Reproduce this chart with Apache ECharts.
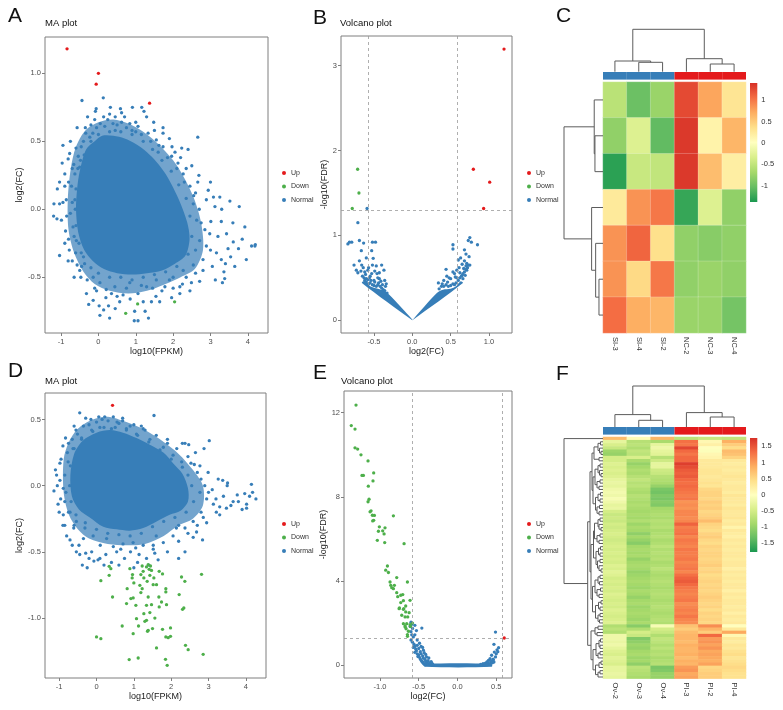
<!DOCTYPE html>
<html><head><meta charset="utf-8">
<script src="https://cdn.jsdelivr.net/npm/echarts@6/dist/echarts.min.js"></script>
<style>html,body{margin:0;padding:0;background:#fff}#c{width:783px;height:710px}</style>
</head><body><div id="c"></div>
<script>
// ---------------- DATA ----------------
const BLUE = '#377EB8', RED = '#E41A1C', GREEN = '#4DAF4A';
const legendNames = ['Up', 'Down', 'Normal'];
const fcCut = [-0.585, 0.585];
const fdrCut = 1.301;

// ticks
const maTicksX = [-1, 0, 1, 2, 3, 4];
const maATicksY = [-0.5, 0, 0.5, 1];
const maDTicksY = [-1, -0.5, 0, 0.5];
const volBTicksX = [-0.5, 0, 0.5, 1];
const volBTicksY = [0, 1, 2, 3];
const volETicksX = [-1, -0.5, 0, 0.5];
const volETicksY = [0, 4, 8, 12];

// Panel A - MA plot (dense core outline, looser halo outline, scattered points)
const maACore = [[-0.5,0.28],[-0.33,0.44],[-0.1,0.5],[0.1,0.54],[0.4,0.54],[0.7,0.52],[1.0,0.48],[1.3,0.42],[1.55,0.35],[1.8,0.26],[2.0,0.16],[2.2,0.04],[2.38,-0.1],[2.44,-0.22],[2.33,-0.34],[2.05,-0.4],[1.7,-0.45],[1.3,-0.47],[0.9,-0.48],[0.5,-0.47],[0.15,-0.44],[-0.15,-0.38],[-0.38,-0.3],[-0.54,-0.17],[-0.6,0.0],[-0.57,0.15]];
const maAHalo = [[-0.74,0.3],[-0.6,0.46],[-0.35,0.58],[0,0.64],[0.4,0.66],[0.8,0.63],[1.2,0.57],[1.6,0.48],[2.0,0.36],[2.28,0.24],[2.56,0.08],[2.75,-0.1],[2.8,-0.3],[2.58,-0.44],[2.2,-0.5],[1.8,-0.55],[1.3,-0.6],[0.8,-0.62],[0.3,-0.6],[-0.1,-0.55],[-0.4,-0.46],[-0.65,-0.32],[-0.8,-0.15],[-0.82,0.07]];
const maANormal = [[-0.44,0.80],[0.13,0.82],[-0.06,0.74],[-0.08,0.72],[0.32,0.75],[0.14,0.68],[0.91,0.75],[1.16,0.75],[1.22,0.72],[0.59,0.74],[0.62,0.71],[-0.29,0.68],[-0.34,0.56],[-0.57,0.60],[-0.95,0.47],[-0.81,0.37],[-0.97,0.34],[-1.04,0.20],[-0.90,0.17],[-1.19,0.04],[-1.04,0.04],[-1.11,-0.07],[-0.99,-0.08],[-0.88,-0.16],[-0.80,-0.22],[-1.04,-0.34],[-0.81,-0.38],[-0.61,-0.32],[-0.57,-0.41],[-0.47,-0.50],[-0.26,-0.70],[0.02,-0.71],[0.04,-0.78],[0.27,-0.71],[0.14,-0.74],[0.45,-0.73],[0.97,-0.75],[1.06,-0.82],[0.96,-0.82],[1.34,-0.80],[1.42,-0.68],[1.54,-0.64],[1.96,-0.65],[2.18,-0.57],[2.49,-0.54],[2.71,-0.53],[3.13,-0.52],[3.32,-0.54],[3.38,-0.51],[3.36,-0.46],[3.29,-0.37],[3.54,-0.35],[3.65,-0.42],[3.75,-0.29],[3.96,-0.37],[4.19,-0.27],[4.10,-0.27],[3.92,-0.13],[3.77,0.02],[3.52,0.06],[3.29,-0.09],[3.01,-0.09],[3.25,0.09],[3.08,0.09],[2.94,0.14],[2.69,0.25],[2.66,0.20],[2.40,0.44],[2.23,0.45],[1.97,0.46],[1.73,0.56],[1.73,0.60],[1.48,0.64],[1.29,0.68],[2.66,0.53],[3.43,-0.18],[3.61,-0.24],[3.47,-0.29],[3.16,-0.32],[2.89,-0.27],
[-0.63,0.26],[-0.72,0.17],[-0.63,0.07],[-0.75,-0.03],[-0.68,-0.13],[-0.59,-0.23],[-0.46,-0.32],[-0.37,-0.40],[-0.14,-0.50],[0.04,-0.54],[0.21,-0.59],[0.44,-0.57],[0.66,-0.63],[0.84,-0.54],[1.06,-0.62],[1.29,-0.57],[1.55,-0.52],[1.78,-0.57],[2.0,-0.50],[2.27,-0.45],[2.54,-0.41],[2.80,-0.37],[2.71,-0.23],[2.63,-0.08],[2.54,0.04],[2.45,0.17],[2.27,0.26],[2.13,0.34],[1.96,0.39],[1.73,0.46],[1.55,0.51],[1.33,0.56],[1.06,0.61],[0.84,0.63],[0.62,0.64],[0.39,0.63],[0.17,0.61],[-0.05,0.60],[-0.23,0.53],[-0.46,0.46],[-0.54,0.39],[-0.50,0.31],[-0.86,0.07],[-0.90,0.26],[-0.77,0.41],[-0.32,-0.62],[-0.14,-0.67],[0.57,-0.68],[2.98,-0.18],[3.12,0.02],[2.89,0.07],[2.36,-0.15],[2.80,-0.45],[2.18,-0.62],[1.64,-0.68],
[-0.55,0.3],[-0.6,0.15],[-0.62,0.0],[-0.6,-0.12],[-0.52,-0.25],[-0.4,-0.35],[-0.2,-0.43],[0.0,-0.47],[0.3,-0.5],[0.6,-0.5],[0.9,-0.52],[1.2,-0.5],[1.5,-0.48],[1.8,-0.46],[2.1,-0.42],[2.4,-0.33],[2.5,-0.2],[2.45,-0.05],[2.35,0.08],[2.15,0.18],[1.95,0.28],[1.7,0.36],[1.45,0.44],[1.2,0.5],[0.9,0.55],[0.6,0.57],[0.3,0.57],[0.0,0.55],[-0.2,0.5],[-0.38,0.4],[-0.48,0.36],[-0.66,0.33],[-0.7,0.05],[-0.65,-0.2],[-0.45,-0.42],[-0.05,-0.6],[0.35,-0.62],[0.75,-0.58],[1.15,-0.56],[1.45,-0.58],[1.9,-0.52],[2.25,-0.55],[2.6,-0.3],[2.75,-0.1],[2.6,0.12],[2.35,0.3],[2.05,0.42],[1.62,0.47],[1.0,0.57],[0.45,0.58],[-0.15,0.56],[-0.4,0.5],
[0.05,0.63],[0.25,0.66],[0.5,0.62],[0.75,0.6],[1.0,0.64],[0.3,0.7],[0.7,0.68],[-0.1,0.66],[0.45,0.68],[0.9,0.58],[1.15,0.55],[1.4,0.5],[1.6,0.42],[1.85,0.38],[2.1,0.3],[2.3,0.2],[2.55,0.1],[2.7,0.0],[2.85,-0.15],[3.0,-0.3],[3.2,-0.2],[3.4,-0.4],[2.6,-0.47],[2.35,-0.5],[2.0,-0.58],[1.7,-0.6],[1.2,-0.68],[0.85,-0.66],[0.5,-0.64],[0.2,-0.65],[-0.1,-0.58],[-0.3,-0.52],[-0.5,-0.45],[-0.7,-0.38],[-0.78,-0.3],[-0.9,-0.25],[-0.85,-0.05],[-0.95,0.05],[-0.8,0.2],[-0.7,0.3],[-0.6,0.45],[-0.75,0.5],[-0.35,0.6],[-0.2,0.62],[1.5,0.58],[1.9,0.52],[2.2,0.38],[2.5,0.32],[3.0,0.2],[3.3,0.0],[3.6,-0.1],[3.85,-0.22],[4.2,-0.26],[3.05,-0.42],[2.45,-0.6],[1.25,-0.75],[0.3,-0.8],[-0.65,-0.5],[-1.1,0.15],[-1.2,-0.05]];
const maAUp = [[-0.84,1.18],[0.0,1.0],[-0.06,0.92],[1.37,0.78]];
const maADown = [[0.73,-0.765],[1.05,-0.696],[2.04,-0.681]];

// Panel B - volcano
const volBCoreLeft = [[0,0],[-0.657,0.44],[-0.64,0.46],[-0.6,0.45],[-0.55,0.40],[-0.45,0.37],[-0.35,0.34],[-0.3,0.30],[0,0.01]];
const volBCoreRight = [[0,0],[0.32,0.32],[0.4,0.36],[0.5,0.37],[0.57,0.40],[0.63,0.46],[0.66,0.44],[0,0.0]];
const volBNormal = [[-0.59,1.317],[-0.71,1.15],[-0.82,0.92],[-0.79,0.92],[-0.84,0.90],[-0.69,0.94],[-0.635,0.91],[-0.52,0.92],[-0.48,0.92],[-0.53,0.82],[-0.665,0.82],[-0.6,0.735],[-0.51,0.73],[-0.76,0.65],[-0.66,0.65],[-0.73,0.59],[-0.71,0.56],[-0.62,0.57],[-0.58,0.59],[-0.52,0.65],[-0.47,0.64],[-0.40,0.65],[-0.37,0.59],[-0.46,0.55],[-0.55,0.52],[-0.43,0.49],[-0.5,0.47],[-0.6,0.49],[-0.36,0.47],
[-0.62,0.47],[-0.6,0.45],[-0.57,0.43],[-0.55,0.44],[-0.52,0.42],[-0.5,0.41],[-0.47,0.40],[-0.45,0.42],[-0.42,0.40],[-0.4,0.38],[-0.38,0.36],[-0.36,0.35],[-0.33,0.32],[-0.63,0.50],[-0.58,0.48],[-0.54,0.47],[-0.49,0.45],[-0.44,0.44],[-0.39,0.42],[-0.35,0.40],[-0.65,0.52],[-0.61,0.54],[-0.56,0.5],[-0.53,0.55],[-0.45,0.5],[-0.41,0.46],[-0.34,0.43],[-0.67,0.58],[-0.57,0.62],[-0.49,0.58],[-0.43,0.56],[-0.64,0.62],[-0.69,0.7],
[0.53,0.89],[0.85,0.89],[0.77,0.92],[0.75,0.975],[0.73,0.94],[0.53,0.84],[0.68,0.83],[0.63,0.735],[0.70,0.78],[0.74,0.75],[0.60,0.71],[0.44,0.6],[0.71,0.67],[0.75,0.65],[0.67,0.61],[0.58,0.59],[0.53,0.57],[0.56,0.51],[0.65,0.53],[0.71,0.59],[0.50,0.49],[0.41,0.47],[0.34,0.44],
[0.35,0.37],[0.38,0.40],[0.41,0.40],[0.44,0.42],[0.47,0.40],[0.5,0.41],[0.53,0.43],[0.55,0.42],[0.57,0.44],[0.6,0.47],[0.62,0.50],[0.64,0.52],[0.66,0.55],[0.68,0.57],[0.70,0.60],[0.72,0.62],[0.73,0.65],[0.70,0.64],[0.62,0.56],[0.58,0.5],[0.46,0.45],[0.39,0.43],[0.66,0.49],[0.69,0.53],[0.48,0.5],[0.55,0.55],[0.61,0.62],[0.65,0.66],[0.68,0.7],[0.45,0.52]];
const volBUp = [[1.196,3.196],[0.796,1.78],[1.009,1.627],[0.93,1.317]];
const volBDown = [[-0.713,1.78],[-0.696,1.50],[-0.783,1.317]];

// Panel D - MA plot
const maDCore = [[-0.7,0.08],[-0.6,0.24],[-0.37,0.34],[0,0.4],[0.36,0.42],[0.71,0.4],[1.07,0.36],[1.43,0.31],[1.79,0.25],[2.05,0.17],[2.3,0.09],[2.45,-0.02],[2.45,-0.12],[2.25,-0.19],[1.96,-0.22],[1.61,-0.27],[1.25,-0.32],[0.89,-0.34],[0.54,-0.33],[0.18,-0.31],[-0.18,-0.24],[-0.47,-0.18],[-0.66,-0.08]];
const maDHalo = [[-0.88,0.2],[-0.74,0.33],[-0.5,0.43],[-0.1,0.5],[0.3,0.52],[0.8,0.48],[1.3,0.42],[1.8,0.33],[2.2,0.24],[2.58,0.12],[2.85,0.0],[2.85,-0.15],[2.58,-0.25],[2.2,-0.3],[1.8,-0.38],[1.3,-0.44],[0.8,-0.45],[0.3,-0.44],[-0.2,-0.4],[-0.5,-0.33],[-0.74,-0.22],[-0.88,-0.05]];
const maDNormal = [[-0.45,0.55],[-0.29,0.51],[0.06,0.52],[0.22,0.52],[0.31,0.49],[0.70,0.51],[0.70,0.49],[1.54,0.53],[1.25,0.43],[2.30,0.32],[2.37,0.32],[2.47,0.31],[3.02,0.34],[2.88,0.28],[-0.51,0.39],[-0.83,0.36],[-0.98,0.17],[-1.14,-0.04],[-0.98,0.04],[-0.96,-0.10],[-0.89,-0.22],[-0.85,-0.30],[-0.80,-0.38],[-0.61,-0.32],[-0.47,-0.45],[-0.38,-0.60],[-0.29,-0.51],[-0.07,-0.57],[0.04,-0.56],[0.25,-0.52],[0.54,-0.50],[0.91,-0.50],[1.14,-0.52],[0.45,-0.46],[2.37,-0.50],[2.84,-0.41],[2.68,-0.35],[3.66,-0.12],[3.77,-0.07],[3.97,-0.06],[4.15,0.01],[4.18,-0.05],[4.27,-0.10],[4.02,-0.14],[4.02,-0.17],[3.51,0.02],[3.38,0.04],[3.26,0.05],[2.99,0.10],[2.77,0.15],[2.62,0.16],[2.53,0.17],[2.77,-0.05],[2.95,-0.10],[3.13,-0.14],[3.30,-0.16],[3.48,-0.17],[3.21,-0.20],[2.86,-0.24],[2.59,-0.27],[2.37,-0.32],[2.05,-0.38],[1.79,-0.43],[1.52,-0.45],[1.25,-0.45],[0.98,-0.43],[0.71,-0.44],[0.27,-0.40],[-0.09,-0.38],[-0.31,-0.32],[-0.54,-0.27],[-0.71,-0.20],[-0.85,-0.12],[-0.89,-0.02],[-0.85,0.08],[-0.76,0.18],[-0.63,0.28],[-0.40,0.35],[-0.13,0.42],[0.09,0.44],[0.40,0.43],[0.80,0.43],[1.07,0.39],[1.43,0.35],[1.79,0.29],[2.05,0.23],[2.28,0.18],[0.09,-0.55],[1.34,-0.55],[1.56,-0.51],[1.52,-0.48],[2.59,-0.39],[2.14,-0.32],[-0.54,-0.50],[-0.13,-0.50],[-1.07,0.08],[-1.03,-0.14],[-0.71,-0.41],
[-0.7,0.15],[-0.72,0.0],[-0.68,-0.12],[-0.55,-0.22],[-0.3,-0.28],[0.0,-0.33],[0.3,-0.36],[0.6,-0.37],[0.9,-0.38],[1.2,-0.36],[1.5,-0.31],[1.8,-0.27],[2.1,-0.24],[2.4,-0.2],[2.6,-0.12],[2.55,0.0],[2.45,0.08],[2.3,0.14],[2.0,0.2],[1.7,0.27],[1.4,0.33],[1.1,0.38],[0.8,0.42],[0.5,0.44],[0.2,0.44],[-0.1,0.41],[-0.4,0.36],[-0.6,0.28],[-0.78,0.25],[-0.82,-0.05],[-0.75,-0.2],[-0.6,-0.3],[-0.35,-0.4],[0.1,-0.45],[0.65,-0.48],[1.05,-0.47],[1.6,-0.38],[2.2,-0.3],[2.8,-0.2],[3.0,-0.05],[2.8,0.05],[3.2,-0.1],[2.65,0.25],[1.9,0.32],[1.2,0.45],[0.55,0.48],[-0.2,0.46],[-0.65,0.35],
[-0.9,0.3],[-0.75,0.32],[-0.55,0.42],[-0.35,0.45],[-0.15,0.5],[0.15,0.5],[0.45,0.52],[0.9,0.45],[1.3,0.42],[1.6,0.38],[1.9,0.35],[2.15,0.28],[2.45,0.22],[2.7,0.1],[2.9,0.0],[3.1,-0.03],[3.4,-0.08],[3.6,-0.15],[3.3,-0.22],[2.95,-0.28],[2.7,-0.3],[2.45,-0.36],[2.2,-0.42],[1.9,-0.5],[1.65,-0.56],[1.4,-0.6],[1.1,-0.58],[0.75,-0.55],[0.4,-0.58],[0.2,-0.6],[-0.2,-0.55],[-0.45,-0.52],[-0.65,-0.45],[-0.9,-0.3],[-1.0,-0.2],[-1.05,0.0],[-1.1,0.12],[-0.95,0.2],[-0.6,0.45],[3.8,-0.12],[4.1,-0.08],[3.9,-0.18],[3.5,0.0],[2.2,-0.55],[1.0,-0.62],[0.6,-0.6],[-0.25,-0.62],[0.0,0.48],[0.6,0.47],[1.0,0.46]];
const maDUp = [[0.429,0.607]];
const maDDown = [[0.339,-0.609],[0.384,-0.627],[0.116,-0.718],[0.339,-0.677],[0.429,-0.841],[0,-1.143],[0.116,-1.156],[0.688,-1.06],[0.875,-1.314],[1.116,-1.302],[0.893,-0.627],[0.964,-0.672],[0.955,-0.697],[1.0,-0.735],[0.821,-0.778],[0.804,-0.891],[0.92,-0.853],[0.982,-0.848],[1.054,-0.904],[0.982,-1.118],[1.071,-1.005],[1.125,-1.06],[1.188,-0.672],[1.223,-0.607],[1.25,-0.647],[1.268,-0.697],[1.161,-0.753],[1.223,-0.778],[1.188,-0.808],[1.339,-0.614],[1.384,-0.597],[1.411,-0.632],[1.446,-0.607],[1.473,-0.64],[1.429,-0.677],[1.536,-0.697],[1.357,-0.723],[1.518,-0.748],[1.607,-0.748],[1.679,-0.647],[1.768,-0.667],[1.384,-0.841],[1.339,-0.904],[1.473,-0.899],[1.429,-0.959],[1.268,-0.967],[1.339,-1.017],[1.295,-1.025],[1.384,-1.093],[1.5,-1.08],[1.366,-1.1],[1.563,-1.0],[1.67,-0.841],[1.741,-0.879],[1.679,-0.916],[1.857,-0.778],[1.857,-0.803],[1.875,-0.899],[1.768,-1.085],[1.857,-1.143],[1.92,-1.148],[1.982,-1.075],[1.982,-1.138],[1.607,-1.226],[1.848,-1.312],[1.893,-1.357],[2.214,-0.823],[2.277,-0.69],[2.366,-0.723],[2.339,-0.924],[2.304,-0.934],[2.384,-1.206],[2.455,-1.239],[2.813,-0.67],[2.857,-1.274]];

// Panel E - volcano
const volEFlat = [[-0.42,-0.07],[0.44,-0.07],[0.44,0.07],[-0.42,0.07]];
const volENormal = [[-0.60,2.05],[-0.59,1.95],[-0.61,1.85],[-0.58,1.75],[-0.55,1.90],[-0.53,1.65],[-0.60,1.60],[-0.59,1.45],[-0.57,1.35],[-0.60,1.20],[-0.58,1.10],[-0.56,1.00],[-0.55,0.90],[-0.57,0.85],[-0.54,0.78],[-0.53,0.70],[-0.55,0.62],[-0.52,0.55],[-0.50,0.50],[-0.51,0.42],[-0.49,0.38],[-0.48,0.30],[-0.47,0.25],[-0.46,0.20],[-0.45,0.15],[-0.44,0.10],[-0.43,0.06],[-0.42,0.03],[-0.50,0.80],[-0.48,0.65],[-0.47,0.55],[-0.45,0.45],[-0.44,0.35],[-0.42,0.28],[-0.41,0.20],[-0.40,0.12],[-0.39,0.08],[-0.38,0.05],[-0.45,0.85],[-0.43,0.60],[-0.40,0.40],[-0.38,0.22],[-0.36,0.12],[-0.35,0.06],[-0.52,1.20],[-0.49,1.05],[-0.46,1.77],[-0.55,1.45],[-0.52,0.95],[-0.47,0.90],[-0.44,0.72],[-0.41,0.52],[-0.37,0.35],[-0.34,0.18],[-0.33,0.10],[-0.32,0.05],
[0.49,1.58],[0.47,1.00],[0.51,0.74],[0.53,0.84],[0.475,0.63],[0.44,0.48],[0.49,0.40],[0.42,0.32],[0.46,0.29],[0.40,0.24],[0.38,0.16],[0.36,0.11],[0.33,0.08],[0.30,0.05],[0.35,0.04],[0.40,0.10],[0.43,0.18],[0.45,0.12],[0.42,0.06],[0.38,0.03],[0.50,0.55],[0.52,0.65],[0.46,0.25],[0.44,0.20],[0.47,0.16]];
const volEUp = [[0.603,1.30]];
const volEDown = [[-1.309,12.36],[-1.37,11.39],[-1.322,11.22],[-1.322,10.33],[-1.288,10.27],[-1.245,10.0],[-1.154,9.71],[-1.232,9.02],[-1.214,9.02],[-1.081,9.14],[-1.09,8.76],[-1.15,8.51],[-1.141,7.89],[-1.154,7.77],[-1.115,7.34],[-1.128,7.29],[-1.098,7.13],[-1.072,7.12],[-1.081,6.89],[-1.094,6.86],[-0.827,7.10],[-1.008,6.58],[-0.935,6.53],[-0.965,6.39],[-1.02,6.37],[-0.947,6.24],[-1.034,5.94],[-0.939,5.83],[-0.689,5.78],[-0.904,4.72],[-0.926,4.52],[-0.891,4.41],[-0.784,4.17],[-0.646,3.96],[-0.87,3.96],[-0.861,3.80],[-0.814,3.80],[-0.848,3.69],[-0.827,3.64],[-0.784,3.45],[-0.732,3.33],[-0.706,3.36],[-0.771,3.26],[-0.698,3.07],[-0.612,3.09],[-0.732,2.98],[-0.668,2.82],[-0.749,2.73],[-0.698,2.66],[-0.668,2.54],[-0.624,2.50],[-0.719,2.38],[-0.676,2.30],[-0.642,2.30],[-0.698,1.98],[-0.655,1.98],[-0.676,1.87],[-0.663,1.74],[-0.612,1.93],[-0.646,1.46],[-0.581,2.01],[-0.607,1.85],[-0.675,1.82],[-0.633,1.62],[-0.645,1.38],[-0.693,2.69],[-0.753,2.69]];

// Panel C - heatmap
const heatCCols = ['SI-3', 'SI-4', 'SI-2', 'NC-2', 'NC-3', 'NC-4'];
const heatCGroups = ['SI', 'SI', 'SI', 'NC', 'NC', 'NC'];
const heatCRows = [
  [-0.55, -1.0, -0.75, 1.25, 0.75, 0.3],
  [-0.8, -0.3, -1.05, 1.35, 0.15, 0.65],
  [-1.3, -0.45, -0.5, 1.35, 0.6, 0.2],
  [0.25, 0.85, 1.0, -1.25, -0.3, -0.8],
  [0.85, 1.1, 0.35, -0.8, -0.85, -0.8],
  [0.85, 0.4, 1.0, -0.8, -0.75, -0.8],
  [1.05, 0.7, 0.65, -0.75, -0.75, -0.95]
];
const heatCRange = [-1.38, 1.40];
const heatCBarTicks = [-1, -0.5, 0, 0.5, 1];
const heatCColTree = [42.4, [10.7, 0, [9.4, 1, 2]], [13, 3, [7.7, 4, 5]]];
const heatCRowTree = [38.7, [8.7, 0, [8, 1, 2]], [11.3, 3, [7.3, 4, [4, 5, 6]]]];

// Panel F - heatmap
const heatFCols = ['Ov-2', 'Ov-3', 'Ov-4', 'PI-3', 'PI-2', 'PI-4'];
const heatFGroups = ['Ov', 'Ov', 'Ov', 'PI', 'PI', 'PI'];
const heatFRows = [
[0.75,0.05,0.8,-0.7,-0.6,-0.65],[-0.3,-0.75,-0.85,1.3,0.1,0.85],[-0.45,-0.7,-0.3,1.25,0.2,0.6],[-0.6,-0.8,-0.2,1.6,0.0,0.45],[-0.95,-0.65,-0.3,1.35,-0.05,0.75],
[-1.0,-0.7,-0.35,1.25,0.1,0.7],[-0.5,-0.45,-0.75,1.35,0.15,0.55],[-0.5,-0.85,-0.55,1.35,0.3,0.3],[-0.4,-1.0,-0.3,1.65,0.3,0.25],[-0.45,-0.9,-0.3,1.55,0.3,0.3],
[-0.4,-0.8,-0.55,1.45,0.35,0.25],[-0.45,-0.85,-0.6,1.4,0.35,0.3],[-0.4,-0.75,-0.75,1.45,0.3,0.35],[-0.3,-0.65,-0.8,1.35,0.35,0.3],[-0.25,-0.75,-0.85,1.3,0.4,0.25],
[-0.3,-0.7,-1.0,1.35,0.35,0.3],[-0.2,-0.8,-1.2,1.3,0.5,0.3],[-0.15,-0.85,-1.25,1.25,0.55,0.25],[-0.2,-0.75,-1.15,1.2,0.55,0.35],[-0.1,-0.8,-1.2,1.25,0.5,0.3],
[-0.2,-0.85,-1.1,1.05,0.6,0.3],[-0.3,-0.8,-1.15,1.1,0.55,0.25],[-0.25,-0.85,-0.9,1.05,0.6,0.35],[-0.5,-0.9,-0.85,1.15,0.5,0.3],[-0.6,-0.85,-0.8,1.15,0.55,0.3],
[-0.55,-0.9,-0.85,1.1,0.6,0.35],[-0.6,-0.8,-0.75,1.15,0.75,0.25],[-0.5,-0.95,-0.8,1.4,0.55,0.3],[-0.55,-0.85,-0.75,1.2,0.5,0.15],[-0.5,-0.9,-0.85,1.25,0.45,0.3],
[-0.45,-1.05,-0.8,1.3,0.55,0.25],[-0.5,-0.9,-0.75,1.15,0.6,0.2],[-0.55,-1.0,-0.85,1.25,0.5,0.3],[-0.5,-1.1,-0.8,1.2,0.45,0.25],[-0.45,-0.9,-0.7,1.15,0.55,0.3],
[-0.5,-0.85,-0.8,1.25,0.5,0.25],[-0.45,-0.9,-0.75,1.2,0.55,0.3],[-0.5,-0.85,-0.8,1.2,0.55,0.3],[-0.45,-1.0,-0.75,1.25,0.5,0.25],[-0.5,-0.9,-0.85,1.15,0.55,0.3],
[-0.4,-0.85,-0.8,1.2,0.6,0.3],[-0.45,-0.9,-0.7,1.25,0.5,0.2],[-0.35,-1.0,-0.8,1.15,0.55,0.3],[-0.4,-0.95,-0.85,1.3,0.45,0.25],[-0.5,-0.9,-0.8,1.4,0.5,0.3],
[-0.45,-0.85,-0.75,1.45,0.55,0.25],[-0.5,-0.9,-0.8,1.35,0.5,0.3],[-0.45,-0.95,-0.85,1.25,0.55,0.3],[-0.5,-0.85,-0.8,1.2,0.5,0.2],[-0.4,-0.9,-0.75,1.15,0.55,0.3],
[-0.45,-1.0,-0.8,1.2,0.6,0.25],[-0.5,-0.9,-0.85,1.25,0.55,0.3],[-0.45,-0.85,-0.8,1.1,0.5,0.3],[-0.5,-0.95,-0.75,1.15,0.55,0.25],[-0.4,-0.9,-0.8,1.2,0.45,0.3],
[-0.45,-0.85,-0.85,1.15,0.55,0.2],[-0.5,-0.9,-0.8,1.25,0.5,0.3],[-0.45,-0.95,-0.75,1.15,0.55,0.25],[-0.4,-0.85,-0.8,1.1,0.5,0.3],[-0.8,-1.1,-0.1,0.7,1.1,0.0],
[-0.7,-0.8,-0.5,0.6,0.8,0.3],[-0.8,-0.5,-0.6,0.75,0.6,0.9],[-0.2,-0.6,-0.8,0.8,1.35,0.1],[-0.2,-1.15,-0.65,0.8,1.0,0.3],[-0.25,-1.05,-0.7,0.75,1.05,0.25],
[-0.2,-0.95,-0.8,0.85,0.95,0.35],[-0.3,-1.0,-0.7,0.8,1.05,0.3],[-0.4,-0.9,-0.8,0.8,0.9,0.4],[-0.45,-0.85,-0.75,0.85,0.95,0.45],[-0.35,-0.95,-0.85,0.75,0.9,0.35],
[-0.4,-0.9,-0.8,0.85,0.85,0.4],[-0.45,-1.05,-0.75,0.8,0.95,0.45],[-0.3,-0.7,-1.2,1.0,0.5,0.5],[-0.3,-0.75,-1.15,1.05,0.55,0.45],[-0.25,-0.8,-1.0,0.9,0.6,0.4],
[-0.3,-0.85,-1.0,0.95,0.6,0.4]];
const heatFRange = [-1.78, 1.76];
const heatFBarTicks = [-1.5, -1, -0.5, 0, 0.5, 1, 1.5];
const heatFColTree = [41, [12.4, 0, [6.7, 1, 2]], [14.4, 3, [10, 4, 5]]];
const heatFRowTree = [39, 0, [15.3,
  [13, [11, [9, [5,[2.5,1,2],[3.5,3,[2,4,5]]], [4,6,7]], [10, [8, [5,[3,8,9],[3.5,10,[2,11,12]]], [6,[3,13,14],[4,15,16]]], [7.5, [5,[2.5,17,18],[3,19,20]], [6,[3.5,21,22],[4,23,24]]]]],
       [12, [9.5, [8.5, [5,[3,25,26],[4,27,[2,28,29]]], [6,[3,30,31],[4,32,33]]], [7, [4.5,[2.5,34,35],[3,36,37]], [5.5,[3,38,39],[4,40,[2,41,42]]]]],
            [10.5, [8, [5,[3,43,44],[3.5,45,46]], [6,[2.5,47,48],[4,49,50]]], [7.5, [4.5,[2,51,52],[3,53,54]], [5,[3,55,56],[3.5,57,58]]]]]],
  [12, [8, [5,59,60], [6,61,62]], [10, [7, [4,[2.5,63,64],[3,65,66]], [5,[3,67,68],69]], [7.5, [4,[2,70,71],72], [5,[3,73,74],75]]]]]];

const groupColors = { SI: BLUE, NC: RED, Ov: BLUE, PI: RED };
const PAL = ['#1a9850','#66bd63','#a6d96a','#d9ef8b','#ffffbf','#fee08b','#fdae61','#f46d43','#d73027'];

// ---------------- BUILD ----------------
const FONT = '"Liberation Sans", Arial, sans-serif';
const chart = echarts.init(document.getElementById('c'), null, { renderer: 'canvas' });

const grids = [
  { left: 45, top: 37, width: 223, height: 296 },   // 0 A
  { left: 341, top: 36, width: 171, height: 297 },  // 1 B
  { left: 45, top: 393, width: 221, height: 285 },  // 2 D
  { left: 344, top: 391, width: 168, height: 287 }, // 3 E
  { left: 603, top: 82, width: 143, height: 251 },  // 4 C heat
  { left: 603, top: 72, width: 143, height: 7.6 },  // 5 C ann
  { left: 603, top: 29.3, width: 143, height: 42.4 }, // 6 C col dendro
  { left: 564, top: 82, width: 39, height: 251 },   // 7 C row dendro
  { left: 750, top: 83, width: 7.3, height: 119 },  // 8 C colorbar
  { left: 603, top: 437, width: 143, height: 241.6 }, // 9 F heat
  { left: 603, top: 427, width: 143, height: 7.6 }, // 10 F ann
  { left: 603, top: 386, width: 143, height: 41 },  // 11 F col dendro
  { left: 564, top: 437, width: 39, height: 241.6 },// 12 F row dendro
  { left: 750, top: 438, width: 7.3, height: 114 }  // 13 F colorbar
].map((g, i) => Object.assign({ containLabel: false }, g, i < 4 ? { show: true, borderColor: '#7f7f7f', borderWidth: 1 } : {}));

const xAxes = [], yAxes = [];
function fmt(dec) { return v => dec ? Number(v).toFixed(1) : String(v); }
function valAxis(gi, min, max, ticks, dec, name, gap, isY) {
  return {
    type: 'value', gridIndex: gi, min, max,
    position: isY ? 'left' : 'bottom',
    axisLine: { show: false, onZero: false }, splitLine: { show: false },
    axisTick: { show: true, length: 3, lineStyle: { color: '#7f7f7f' }, customValues: ticks },
    axisLabel: { customValues: ticks, formatter: fmt(dec), fontSize: 7.5, color: '#4d4d4d', margin: isY ? 4 : 5, fontFamily: FONT },
    name, nameLocation: 'middle', nameGap: gap,
    nameTextStyle: { fontSize: 9, color: '#1a1a1a', fontFamily: FONT }
  };
}
xAxes[0] = valAxis(0, -1.43, 4.54, maTicksX, false, 'log10(FPKM)', 13, false);
yAxes[0] = valAxis(0, -0.91, 1.267, maATicksY, true, 'log2(FC)', 18, true);
xAxes[1] = valAxis(1, -0.93, 1.30, volBTicksX, true, 'log2(FC)', 13, false);
yAxes[1] = valAxis(1, -0.15, 3.35, volBTicksY, false, '-log10(FDR)', 9, true);
xAxes[2] = valAxis(2, -1.38, 4.54, maTicksX, false, 'log10(FPKM)', 12, false);
yAxes[2] = valAxis(2, -1.453, 0.70, maDTicksY, true, 'log2(FC)', 18, true);
xAxes[3] = valAxis(3, -1.464, 0.703, volETicksX, true, 'log2(FC)', 12, false);
yAxes[3] = valAxis(3, -0.6, 13.03, volETicksY, false, '-log10(FDR)', 10, true);

const hidden = { show: false };
function catAxis(gi, data, showLabels, inverse) {
  return {
    type: 'category', gridIndex: gi, data, inverse: !!inverse, boundaryGap: true,
    axisLine: hidden, axisTick: hidden, splitLine: hidden,
    axisLabel: showLabels ? { rotate: -90, fontSize: 7.5, color: '#333', margin: 4, fontFamily: FONT, interval: 0 } : hidden
  };
}
function hidVal(gi, min, max, inverse) { return { type: 'value', gridIndex: gi, min, max, inverse: !!inverse, show: false }; }
const rowIdxC = heatCRows.map((r, i) => String(i));
const rowIdxF = heatFRows.map((r, i) => String(i));
// C
xAxes[4] = catAxis(4, heatCCols, true); yAxes[4] = catAxis(4, rowIdxC, false, true);
xAxes[5] = catAxis(5, heatCCols, false); yAxes[5] = hidVal(5, 0, 1);
xAxes[6] = hidVal(6, 0, heatCCols.length); yAxes[6] = hidVal(6, 0, heatCColTree[0]);
xAxes[7] = hidVal(7, 0, heatCRowTree[0], true); yAxes[7] = hidVal(7, 0, heatCRows.length, true);
xAxes[8] = hidVal(8, 0, 1);
yAxes[8] = { type: 'value', gridIndex: 8, min: heatCRange[0], max: heatCRange[1], position: 'right',
  axisLine: hidden, axisTick: hidden, splitLine: hidden,
  axisLabel: { customValues: heatCBarTicks, formatter: v => String(v), fontSize: 7.5, color: '#333', margin: 4, fontFamily: FONT } };
// F
xAxes[9] = catAxis(9, heatFCols, true); yAxes[9] = catAxis(9, rowIdxF, false, true);
xAxes[10] = catAxis(10, heatFCols, false); yAxes[10] = hidVal(10, 0, 1);
xAxes[11] = hidVal(11, 0, heatFCols.length); yAxes[11] = hidVal(11, 0, heatFColTree[0]);
xAxes[12] = hidVal(12, 0, heatFRowTree[0], true); yAxes[12] = hidVal(12, 0, heatFRows.length, true);
xAxes[13] = hidVal(13, 0, 1);
yAxes[13] = { type: 'value', gridIndex: 13, min: heatFRange[0], max: heatFRange[1], position: 'right',
  axisLine: hidden, axisTick: hidden, splitLine: hidden,
  axisLabel: { customValues: heatFBarTicks, formatter: v => String(v), fontSize: 7.5, color: '#333', margin: 4, fontFamily: FONT } };

const series = [];
function poly(gi, pts, opacity, z) {
  series.push({ type: 'custom', name: 'core', xAxisIndex: gi, yAxisIndex: gi, silent: true, z: z || 1, data: [[0, 0]],
    renderItem: (p, api) => ({ type: 'polygon', shape: { points: pts.map(pt => api.coord(pt)), smooth: 0.3 },
      style: { fill: BLUE, opacity: opacity == null ? 1 : opacity } }) });
}
function scat(gi, name, data, color, z, extra) {
  series.push(Object.assign({ type: 'scatter', name, xAxisIndex: gi, yAxisIndex: gi, data, symbolSize: 3.3,
    itemStyle: { color, opacity: 1 }, silent: true, z }, extra || {}));
}
const cutLines = {
  markLine: { silent: true, symbol: 'none', label: { show: false }, animation: false,
    lineStyle: { type: [3, 3], color: '#9a9a9a', width: 0.8 },
    data: [{ xAxis: fcCut[0] }, { xAxis: fcCut[1] }, { yAxis: fdrCut }] }
};
// A
poly(0, maAHalo, 0.7, 1);
poly(0, maACore, 1, 1);
scat(0, 'Normal', maANormal, BLUE, 2);
scat(0, 'Up', maAUp, RED, 3);
scat(0, 'Down', maADown, GREEN, 3);
// B
poly(1, volBCoreLeft); poly(1, volBCoreRight);
scat(1, 'Normal', volBNormal, BLUE, 2, cutLines);
scat(1, 'Up', volBUp, RED, 3);
scat(1, 'Down', volBDown, GREEN, 3);
// D
poly(2, maDHalo, 0.7, 1);
poly(2, maDCore, 1, 1);
scat(2, 'Normal', maDNormal, BLUE, 2);
scat(2, 'Up', maDUp, RED, 3);
scat(2, 'Down', maDDown, GREEN, 3);
// E
poly(3, volEFlat);
scat(3, 'Normal', volENormal, BLUE, 2, cutLines);
scat(3, 'Up', volEUp, RED, 3);
scat(3, 'Down', volEDown, GREEN, 3);

// heatmaps
function heatData(rows) { const d = []; rows.forEach((r, i) => r.forEach((v, j) => d.push([j, i, v]))); return d; }
const heatCIndex = series.length;
series.push({ type: 'heatmap', xAxisIndex: 4, yAxisIndex: 4, data: heatData(heatCRows), silent: true,
  itemStyle: { borderColor: 'rgba(255,255,255,0.35)', borderWidth: 0.6 }, emphasis: { disabled: true } });
const heatFIndex = series.length;
series.push({ type: 'heatmap', xAxisIndex: 9, yAxisIndex: 9, data: heatData(heatFRows), silent: true,
  emphasis: { disabled: true } });

// annotation bars
function ann(gi, groups) {
  series.push({ type: 'custom', xAxisIndex: gi, yAxisIndex: gi, silent: true, data: groups.map((g, i) => [i, 0]),
    renderItem: (p, api) => {
      const i = api.value(0); const c0 = api.coord([i, 1]); const c1 = api.coord([i, 0]); const w = api.size([1, 0])[0];
      return { type: 'rect', shape: { x: c0[0] - w / 2, y: c0[1], width: w, height: c1[1] - c0[1] }, style: { fill: groupColors[groups[i]] } };
    } });
}
ann(5, heatCGroups); ann(10, heatFGroups);

// dendrograms
function treeSegs(tree) {
  const segs = [];
  (function walk(n) {
    if (typeof n === 'number') return { p: n + 0.5, h: 0 };
    const A = walk(n[1]), B = walk(n[2]), h = n[0];
    segs.push([A.p, A.h, A.p, h], [A.p, h, B.p, h], [B.p, h, B.p, B.h]);
    return { p: (A.p + B.p) / 2, h };
  })(tree);
  return segs;
}
function dendro(gi, tree, rows) {
  series.push({ type: 'custom', xAxisIndex: gi, yAxisIndex: gi, silent: true, clip: false,
    dimensions: ['a', 'b', 'c', 'd'], encode: { x: rows ? 1 : 0, y: rows ? 0 : 1 }, data: treeSegs(tree),
    renderItem: (p, api) => {
      const a = [api.value(0), api.value(1)], b = [api.value(2), api.value(3)];
      const p1 = api.coord(rows ? [a[1], a[0]] : a), p2 = api.coord(rows ? [b[1], b[0]] : b);
      return { type: 'line', shape: { x1: p1[0], y1: p1[1], x2: p2[0], y2: p2[1] }, style: { stroke: '#5c5c5c', lineWidth: 1 } };
    } });
}
dendro(6, heatCColTree, false); dendro(7, heatCRowTree, true);
dendro(11, heatFColTree, false); dendro(12, heatFRowTree, true);

// colorbars
function colorbar(gi, range) {
  const stops = PAL.map((c, i) => ({ offset: i / (PAL.length - 1), color: c }));
  series.push({ type: 'custom', xAxisIndex: gi, yAxisIndex: gi, silent: true, data: [[0, range[0], range[1]]],
    dimensions: ['x', 'lo', 'hi'], encode: { x: 0, y: [1, 2] },
    renderItem: (p, api) => {
      const t = api.coord([0, api.value(2)]), b = api.coord([1, api.value(1)]);
      return { type: 'rect', shape: { x: t[0], y: t[1], width: b[0] - t[0], height: b[1] - t[1] },
        style: { fill: new echarts.graphic.LinearGradient(0, 1, 0, 0, stops) } };
    } });
}
colorbar(8, heatCRange); colorbar(13, heatFRange);

// legends
function legend(left, top) {
  return { left, top, orient: 'vertical', data: legendNames, icon: 'circle', itemWidth: 4, itemHeight: 4, itemGap: 4.5,
    selectedMode: false, padding: 0, textStyle: { fontSize: 7, color: '#333', lineHeight: 9, fontFamily: FONT } };
}

// titles
function ttl(text, left, top, size) {
  return { text, left, top, padding: 0, textStyle: { fontSize: size, fontWeight: 'normal', color: '#111', fontFamily: FONT } };
}
const titles = [
  ttl('A', 8, 6, 21), ttl('B', 313, 8, 21), ttl('C', 556, 6, 21),
  ttl('D', 8, 361, 21), ttl('E', 313, 363, 21), ttl('F', 556, 364, 21),
  ttl('MA plot', 45, 18.5, 9.5), ttl('Volcano plot', 340, 18.5, 9.5),
  ttl('MA plot', 45, 376, 9.5), ttl('Volcano plot', 341, 376, 9.5)
];

chart.setOption({
  animation: false,
  backgroundColor: '#ffffff',
  textStyle: { fontFamily: FONT },
  title: titles,
  grid: grids,
  xAxis: xAxes,
  yAxis: yAxes,
  legend: [legend(282, 168.5), legend(527, 168.5), legend(282, 519.5), legend(527, 519.5)],
  visualMap: [
    { type: 'continuous', show: false, seriesIndex: heatCIndex, dimension: 2, min: heatCRange[0], max: heatCRange[1], inRange: { color: PAL } },
    { type: 'continuous', show: false, seriesIndex: heatFIndex, dimension: 2, min: heatFRange[0], max: heatFRange[1], inRange: { color: PAL } }
  ],
  series
});
</script></body></html>
